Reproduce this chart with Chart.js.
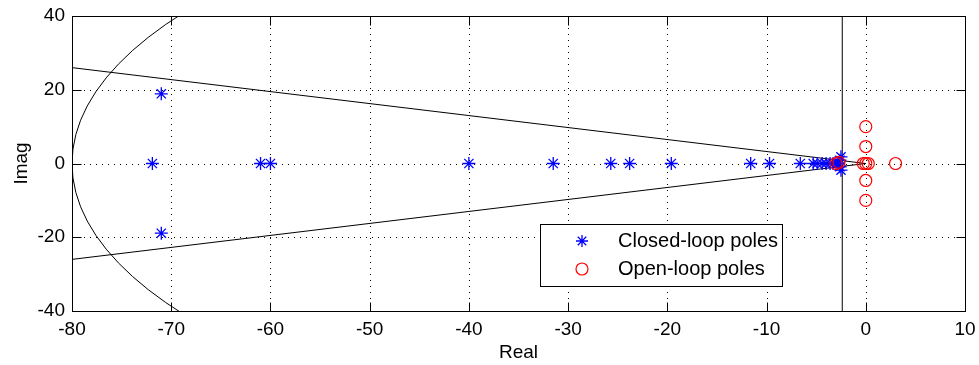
<!DOCTYPE html>
<html>
<head>
<meta charset="utf-8">
<script src="https://cdn.jsdelivr.net/npm/chart.js@4"></script>
<style>
  html, body { margin: 0; padding: 0; background: #fff; }
  #wrap { width: 979px; height: 365px; }
</style>
</head>
<body>
<div id="wrap"><canvas id="rlocus" width="979" height="365"></canvas></div>
<script>
// tick values
const xTicks = [-80, -70, -60, -50, -40, -30, -20, -10, 0, 10];
const yTicks = [-40, -20, 0, 20, 40];

// closed-loop poles (real, imag)
const closedReal = [-71.9, -71.0, -71.0, -61.0, -60.0, -40.0, -31.5, -25.7, -23.8, -19.6,
  -11.6, -9.7, -6.6, -5.3, -4.9, -4.4, -4.0, -3.6, -3.3, -3.0, -2.8, -2.6, -2.6, -2.5, -2.5];
const closedImag = [0, 18.9, -18.9, 0, 0, 0, 0, 0, 0, 0,
  0, 0, 0, 0, 0, 0, 0, 0, 0, 0, 0, 0.9, -0.9, 1.8, -1.8];

// open-loop poles (real, imag)
const openReal = [0, 0, -0.25, 0, 0.25, 0, 0, 3.0, -3.0, -2.7];
const openImag = [10, 4.6, 0, 0, 0, -4.6, -10, 0, 0, 0.3];

// sgrid-style guides
const zetaLineReal = [0, -80];
const zetaLineImag = [0, 26];
const sigmaReal = -2.37;
const wnRadius = 80;

const FONT = "'Liberation Sans', Arial, Helvetica, sans-serif";

function pairs(xs, ys) {
  return xs.map((x, i) => ({ x: x, y: ys[i] }));
}

const guidePlugin = {
  id: 'guides',
  beforeDatasetsDraw(chart) {
    const { ctx, chartArea: a, scales: { x, y } } = chart;
    ctx.save();
    // dotted grid
    ctx.strokeStyle = '#000';
    ctx.lineWidth = 1;
    ctx.setLineDash([1, 5]);
    xTicks.slice(1, -1).forEach(v => {
      const px = Math.round(x.getPixelForValue(v)) + 0.5;
      ctx.beginPath();
      ctx.moveTo(px, a.bottom);
      ctx.lineTo(px, a.top);
      ctx.stroke();
    });
    yTicks.slice(1, -1).forEach(v => {
      const py = Math.round(y.getPixelForValue(v)) + 0.5;
      ctx.beginPath();
      ctx.moveTo(a.left, py);
      ctx.lineTo(a.right, py);
      ctx.stroke();
    });
    ctx.setLineDash([]);
    // natural frequency arc
    ctx.beginPath();
    ctx.rect(a.left, a.top, a.right - a.left, a.bottom - a.top);
    ctx.clip();
    const cx = x.getPixelForValue(0), cy = y.getPixelForValue(0);
    const rx = cx - x.getPixelForValue(-wnRadius);
    const ry = cy - y.getPixelForValue(wnRadius);
    ctx.beginPath();
    ctx.ellipse(cx, cy, rx, ry, 0, 0, Math.PI * 2);
    ctx.stroke();
    ctx.restore();
  },
  afterDatasetsDraw(chart) {
    const { ctx, chartArea: a, scales: { x, y } } = chart;
    ctx.save();
    ctx.strokeStyle = '#000';
    ctx.lineWidth = 1;
    const L = Math.round(a.left) + 0.5, R = Math.round(a.right) + 0.5;
    const T = Math.round(a.top) + 0.5, B = Math.round(a.bottom) + 0.5;
    ctx.strokeRect(L, T, R - L, B - T);
    // inward ticks on all sides
    const tl = 9;
    ctx.beginPath();
    xTicks.forEach(v => {
      const px = Math.round(x.getPixelForValue(v)) + 0.5;
      ctx.moveTo(px, B); ctx.lineTo(px, B - tl);
      ctx.moveTo(px, T); ctx.lineTo(px, T + tl);
    });
    yTicks.forEach(v => {
      const py = Math.round(y.getPixelForValue(v)) + 0.5;
      ctx.moveTo(L, py); ctx.lineTo(L + tl, py);
      ctx.moveTo(R, py); ctx.lineTo(R - tl, py);
    });
    ctx.stroke();

    // legend
    const lx = 540.5, ly = 224.5, lw = 242, lh = 62;
    ctx.fillStyle = '#fff';
    ctx.fillRect(lx, ly, lw, lh);
    ctx.strokeRect(lx, ly, lw, lh);
    // star marker
    const sx = 582, sy = 241, r = 6;
    ctx.strokeStyle = 'rgb(0,0,255)';
    ctx.lineWidth = 1.3;
    ctx.beginPath();
    ctx.moveTo(sx - r, sy); ctx.lineTo(sx + r, sy);
    ctx.moveTo(sx, sy - r); ctx.lineTo(sx, sy + r);
    const d = r * Math.SQRT1_2;
    ctx.moveTo(sx - d, sy - d); ctx.lineTo(sx + d, sy + d);
    ctx.moveTo(sx - d, sy + d); ctx.lineTo(sx + d, sy - d);
    ctx.stroke();
    // circle marker
    ctx.strokeStyle = 'rgb(255,0,0)';
    ctx.lineWidth = 1.2;
    ctx.beginPath();
    ctx.arc(582, 269, 6, 0, Math.PI * 2);
    ctx.stroke();
    ctx.fillStyle = '#000';
    ctx.font = '20px ' + FONT;
    ctx.textBaseline = 'middle';
    ctx.textAlign = 'left';
    ctx.fillText('Closed-loop poles', 618, 241);
    ctx.fillText('Open-loop poles', 618, 269);
    ctx.restore();
  }
};

new Chart(document.getElementById('rlocus'), {
  type: 'scatter',
  data: {
    datasets: [
      {
        label: 'Open-loop poles',
        data: pairs(openReal, openImag),
        pointStyle: 'circle',
        pointRadius: 6,
        borderColor: 'rgb(255,0,0)',
        backgroundColor: 'rgba(0,0,0,0)',
        borderWidth: 1.2,
        order: 1
      },
      {
        label: 'Closed-loop poles',
        data: pairs(closedReal, closedImag),
        pointStyle: 'star',
        pointRadius: 6.5,
        borderColor: 'rgb(0,0,255)',
        backgroundColor: 'rgb(0,0,255)',
        borderWidth: 1.3,
        order: 2
      },
      {
        label: 'zeta+',
        type: 'line',
        data: pairs(zetaLineReal, zetaLineImag),
        borderColor: '#000',
        borderWidth: 1,
        pointRadius: 0,
        order: 3
      },
      {
        label: 'zeta-',
        type: 'line',
        data: pairs(zetaLineReal, zetaLineImag.map(v => -v)),
        borderColor: '#000',
        borderWidth: 1,
        pointRadius: 0,
        order: 3
      },
      {
        label: 'sigma',
        type: 'line',
        data: [{ x: sigmaReal, y: -40 }, { x: sigmaReal, y: 40 }],
        borderColor: '#000',
        borderWidth: 1,
        pointRadius: 0,
        order: 3
      }
    ]
  },
  options: {
    responsive: false,
    animation: false,
    devicePixelRatio: 1,
    layout: { padding: { top: 16, right: 14, left: 0, bottom: 0 } },
    plugins: {
      legend: { display: false },
      tooltip: { enabled: false }
    },
    scales: {
      x: {
        type: 'linear',
        min: -80,
        max: 10,
        afterBuildTicks: s => { s.ticks = xTicks.map(v => ({ value: v })); },
        afterFit: s => { s.height = 54; s.paddingLeft = 0; s.paddingRight = 0; },
        grid: { display: false, drawTicks: false },
        border: { display: false },
        ticks: { color: '#000', padding: 7, font: { family: FONT, size: 19 } },
        title: {
          display: true,
          text: 'Real',
          color: '#000',
          padding: { top: 0, bottom: 1 },
          font: { family: FONT, size: 19 }
        }
      },
      y: {
        type: 'linear',
        min: -40,
        max: 40,
        afterBuildTicks: s => { s.ticks = yTicks.map(v => ({ value: v })); },
        afterFit: s => { s.width = 72; s.paddingTop = 0; s.paddingBottom = 0; },
        grid: { display: false, drawTicks: false },
        border: { display: false },
        ticks: { color: '#000', padding: 7, font: { family: FONT, size: 19 } },
        title: {
          display: true,
          text: 'Imag',
          color: '#000',
          padding: { top: 10, bottom: 0 },
          font: { family: FONT, size: 19 }
        }
      }
    }
  },
  plugins: [guidePlugin]
});
</script>
</body>
</html>
